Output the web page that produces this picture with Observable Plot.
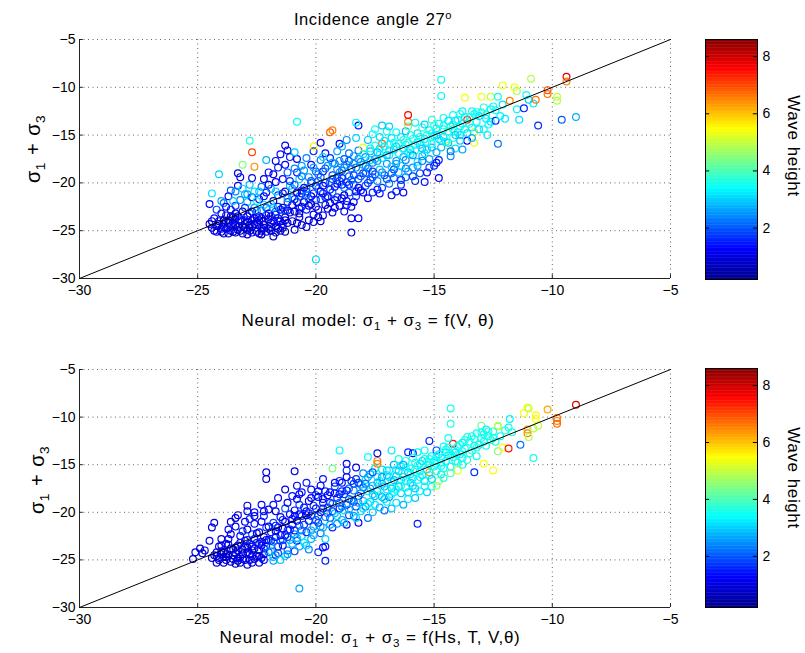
<!DOCTYPE html>
<html>
<head>
<meta charset="utf-8">
<script src="https://cdn.jsdelivr.net/npm/d3@7"></script>
<script src="https://cdn.jsdelivr.net/npm/@observablehq/plot@0.6"></script>
<style>
  html, body { margin: 0; padding: 0; background: #fff; }
  #root { position: relative; width: 805px; height: 653px; font-family: "Liberation Sans", Arial, sans-serif; color: #000; overflow: hidden; }
  .abs { position: absolute; white-space: nowrap; }
  .sb { font-size: 0.68em; position: relative; top: 0.38em; }
  .sp { font-size: 0.68em; position: relative; top: -0.5em; }
</style>
</head>
<body>
<div id="root"></div>
<script>
// ---------- data ----------
const xTicks = [-30, -25, -20, -15, -10, -5];
const yTicks = [-30, -25, -20, -15, -10, -5];
const cbTicks = [2, 4, 6, 8];
const waveDomain = [0.2, 8.6];
const refLine = [-30, -5];

// [neural model, measured sigma1+sigma3, wave height]  -- model f(V, theta)
const topPoints = [
[-24.5,-24.3,0.9],[-24.4,-24.7,0.6],[-24.2,-25.1,1.1],[-24.3,-23.7,1.4],[-24.5,-22.2,1.2],[-24.4,-21.1,3.1],[-24.1,-19.1,3.0],[-24.1,-24.0,0.7],[-24.0,-23.2,1.0],
[-23.9,-25.3,0.8],[-23.8,-24.8,0.5],[-23.9,-24.3,1.0],[-23.7,-23.9,0.7],[-23.8,-23.4,1.3],[-23.6,-22.8,1.5],[-23.9,-22.1,2.1],[-23.7,-21.4,1.1],[-23.6,-20.8,1.9],[-23.6,-24.5,0.6],[-23.5,-23.6,0.9],
[-23.4,-25.2,0.7],[-23.3,-24.9,1.0],[-23.4,-24.4,0.6],[-23.2,-24.0,0.9],[-23.3,-23.5,1.2],[-23.1,-23.0,0.8],[-23.4,-22.4,1.6],[-23.2,-21.8,2.3],[-23.0,-21.2,2.7],[-23.3,-20.3,1.3],[-23.2,-19.4,1.1],[-23.3,-19.0,1.0],[-23.1,-18.1,4.4],[-23.0,-24.7,0.5],
[-22.9,-25.4,0.8],[-22.8,-25.0,0.6],[-22.7,-24.6,1.1],[-22.9,-24.1,0.7],[-22.6,-23.7,0.9],[-22.8,-23.2,1.4],[-22.6,-22.6,2.6],[-22.9,-22.0,2.9],[-22.7,-21.5,1.3],[-22.6,-20.9,3.1],[-22.8,-20.2,2.8],[-22.7,-19.5,0.9],[-22.6,-18.3,6.4],[-22.7,-16.8,7.0],[-22.8,-15.6,3.6],
[-22.4,-25.3,0.7],[-22.3,-24.8,1.0],[-22.2,-24.4,0.6],[-22.4,-23.9,1.2],[-22.1,-23.4,0.8],[-22.3,-22.9,2.4],[-22.2,-22.3,3.0],[-22.4,-21.7,1.5],[-22.1,-21.0,1.1],[-22.3,-20.4,2.2],[-22.2,-19.6,0.9],[-22.0,-18.9,1.3],[-22.1,-17.6,2.7],
[-21.8,-25.6,0.6],[-21.9,-25.0,0.9],[-21.7,-24.5,0.7],[-21.6,-24.0,1.3],[-21.9,-23.5,1.0],[-21.7,-23.0,2.1],[-21.6,-22.5,1.6],[-21.8,-21.9,0.8],[-21.6,-21.3,1.8],[-21.9,-20.6,2.5],[-21.7,-19.9,1.2],[-21.8,-19.1,1.0],[-21.6,-18.4,1.5],[-21.7,-17.7,1.1],[-21.5,-17.0,1.3],
[-21.3,-25.1,0.5],[-21.4,-24.7,0.8],[-21.2,-24.2,1.1],[-21.3,-23.6,0.7],[-21.1,-23.1,1.4],[-21.4,-22.6,0.9],[-21.2,-22.0,1.7],[-21.0,-21.5,2.2],[-21.3,-20.9,1.0],[-21.1,-20.3,2.8],[-21.4,-19.6,1.3],[-21.2,-18.9,2.0],[-21.3,-18.1,1.2],[-21.1,-17.3,1.5],[-21.2,-16.6,1.0],[-21.3,-16.1,1.2],
[-20.9,-24.9,0.7],[-20.8,-24.2,0.9],[-20.7,-23.6,1.2],[-20.9,-23.0,0.6],[-20.6,-22.5,1.5],[-20.8,-22.0,1.1],[-20.7,-21.4,2.4],[-20.6,-20.8,1.6],[-20.9,-20.2,1.9],[-20.7,-19.6,2.9],[-20.8,-18.9,1.4],[-20.6,-18.2,2.6],[-20.8,-17.5,1.1],[-20.9,-16.8,2.9],[-20.8,-13.6,3.4],
[-20.0,-28.0,3.0],[-20.4,-24.6,1.0],[-20.3,-23.9,0.8],[-20.1,-23.3,1.2],[-20.4,-22.8,1.6],[-20.2,-22.2,0.9],[-20.3,-21.7,2.0],[-20.1,-21.1,1.4],[-20.4,-20.6,2.5],[-20.2,-20.0,1.7],[-20.3,-19.4,2.4],[-20.0,-18.8,2.1],[-20.2,-18.1,1.3],[-20.4,-17.4,2.3],[-20.1,-16.7,1.6],[-20.1,-16.2,5.5],
[-19.8,-24.0,0.9],[-19.7,-23.4,1.1],[-19.9,-22.8,1.4],[-19.6,-22.3,0.8],[-19.8,-21.7,1.9],[-19.7,-21.1,1.2],[-19.9,-20.6,2.3],[-19.6,-20.0,1.6],[-19.8,-19.4,2.0],[-19.7,-18.8,1.5],[-19.5,-18.2,2.5],[-19.8,-17.6,2.2],[-19.6,-16.9,1.3],[-19.8,-15.8,1.2],[-19.4,-14.7,6.8],
[-19.3,-23.1,1.0],[-19.2,-22.6,1.3],[-19.4,-22.1,0.8],[-19.1,-21.5,1.7],[-19.3,-21.0,2.1],[-19.2,-20.4,1.4],[-19.0,-19.8,1.8],[-19.3,-19.2,1.9],[-19.1,-18.6,2.4],[-19.2,-18.0,2.3],[-19.4,-17.4,1.6],[-19.1,-16.7,2.6],[-19.0,-15.9,1.1],[-19.3,-14.5,6.5],
[-18.5,-25.2,1.0],[-18.5,-23.7,0.9],[-18.8,-23.0,1.2],[-18.7,-22.3,1.5],[-18.9,-21.6,1.1],[-18.6,-21.0,1.8],[-18.8,-20.5,2.4],[-18.7,-19.9,1.6],[-18.6,-19.3,2.0],[-18.9,-18.7,2.2],[-18.7,-18.1,2.5],[-18.8,-17.5,1.9],[-18.6,-16.9,2.2],[-18.9,-16.2,2.7],[-18.7,-15.5,2.4],
[-18.2,-23.7,1.3],[-18.4,-22.0,1.0],[-18.3,-21.4,1.7],[-18.1,-20.8,1.4],[-18.4,-20.2,2.1],[-18.2,-19.6,1.9],[-18.0,-19.0,1.8],[-18.3,-18.4,2.3],[-18.1,-17.8,2.4],[-18.4,-17.2,2.6],[-18.2,-16.6,2.2],[-18.0,-16.3,5.3],[-18.3,-15.3,3.0],[-18.2,-14.0,1.3],[-18.3,-13.7,3.3],
[-17.8,-21.6,1.2],[-17.6,-21.0,1.6],[-17.9,-20.3,2.0],[-17.7,-19.7,1.7],[-17.5,-19.1,1.9],[-17.8,-18.5,2.2],[-17.6,-17.9,2.3],[-17.9,-17.3,2.5],[-17.7,-16.7,2.8],[-17.5,-16.1,3.5],[-17.8,-15.5,2.9],[-17.6,-14.9,3.3],[-17.5,-14.4,3.6],
[-17.3,-21.1,1.3],[-17.2,-20.5,1.8],[-17.4,-19.8,2.4],[-17.1,-19.2,2.0],[-17.3,-18.6,2.9],[-17.0,-18.0,2.5],[-17.2,-17.4,3.2],[-17.4,-16.8,2.7],[-17.1,-16.2,3.4],[-17.2,-15.9,6.7],[-17.3,-15.2,3.1],[-17.0,-14.6,3.5],[-17.2,-14.0,2.9],
[-16.8,-21.3,1.1],[-16.6,-20.9,1.5],[-16.9,-20.1,2.2],[-16.7,-19.5,1.9],[-16.5,-18.9,2.7],[-16.8,-18.3,3.0],[-16.6,-17.7,2.4],[-16.9,-17.1,3.3],[-16.7,-16.5,2.8],[-16.5,-15.9,3.6],[-16.8,-15.3,3.1],[-16.6,-14.7,3.4],[-16.9,-14.1,3.0],
[-16.3,-21.0,1.2],[-16.4,-20.2,1.7],[-16.2,-19.4,2.1],[-16.1,-18.8,2.6],[-16.4,-18.2,3.0],[-16.2,-17.6,2.3],[-16.0,-17.0,3.3],[-16.3,-16.4,2.9],[-16.1,-15.8,3.5],[-16.4,-15.2,3.2],[-16.2,-14.6,2.8],[-16.1,-14.1,4.2],[-16.1,-13.6,6.6],[-16.1,-12.9,7.6],
[-15.8,-19.8,1.6],[-15.6,-19.0,2.0],[-15.9,-18.4,2.5],[-15.7,-17.8,3.1],[-15.5,-17.2,2.7],[-15.8,-16.6,3.4],[-15.6,-16.0,2.9],[-15.9,-15.4,3.6],[-15.7,-14.8,3.2],[-15.5,-14.2,3.8],[-15.8,-13.7,3.3],
[-15.4,-19.9,1.4],[-15.3,-18.9,1.3],[-15.0,-18.2,1.6],[-15.2,-17.5,2.6],[-15.4,-16.9,3.2],[-15.1,-16.3,2.8],[-15.3,-15.7,3.5],[-15.0,-15.1,3.1],[-15.2,-14.5,3.4],[-15.4,-13.9,3.0],[-15.1,-13.4,3.7],
[-14.8,-19.5,1.2],[-14.8,-17.6,1.5],[-14.9,-16.8,2.7],[-14.4,-16.1,4.8],[-14.7,-15.6,3.3],[-14.9,-15.0,2.9],[-14.6,-14.4,3.6],[-14.8,-13.8,3.2],[-14.6,-13.2,3.4],[-14.7,-10.9,3.3],[-14.7,-9.2,3.4],
[-14.3,-17.2,2.4],[-14.1,-16.4,3.1],[-14.4,-15.8,2.8],[-14.2,-15.3,3.5],[-14.0,-14.7,3.2],[-14.3,-14.1,3.7],[-14.1,-13.5,3.0],[-14.2,-12.9,3.4],
[-13.8,-16.5,2.6],[-13.6,-15.6,1.2],[-13.9,-15.0,3.1],[-13.7,-14.4,3.5],[-13.8,-13.8,3.3],[-13.6,-13.4,7.2],[-13.9,-12.8,3.6],[-13.7,-11.1,5.4],
[-13.3,-15.8,5.2],[-13.3,-14.7,5.0],[-13.4,-14.2,3.2],[-13.2,-13.6,3.4],[-13.1,-13.0,3.0],[-13.4,-12.5,3.5],[-13.0,-11.0,5.3],
[-12.75,-15.0,3.2],[-12.9,-14.4,3.4],[-12.6,-13.6,3.1],[-12.8,-12.9,3.6],[-12.6,-12.3,3.3],[-12.6,-11.0,4.9],
[-12.3,-15.9,2.2],[-12.4,-13.5,1.5],[-12.2,-13.0,3.3],[-12.4,-12.4,3.5],[-12.1,-11.8,3.1],[-12.3,-11.0,3.4],[-12.1,-9.8,5.3],
[-12.0,-13.3,3.2],[-11.5,-12.3,3.3],[-11.8,-11.4,6.5],[-11.5,-10.4,4.6],[-11.6,-10.0,5.4],
[-11.4,-13.4,3.1],[-11.2,-12.2,1.5],[-11.0,-11.3,2.9],[-11.1,-10.8,3.4],
[-10.6,-14.0,1.6],[-10.8,-11.7,3.2],[-10.7,-11.3,6.6],[-10.9,-9.1,4.8],
[-10.2,-10.3,6.9],[-10.2,-10.7,6.6],
[-9.8,-11.0,5.0],[-9.8,-11.4,4.8],[-9.6,-13.4,2.0],[-9.4,-8.9,7.8],[-9.4,-9.4,6.5],[-9.0,-13.1,2.7],
[-24.2,-24.5,0.7],[-24.0,-24.8,1.0],[-23.9,-23.9,0.6],[-23.7,-24.2,0.9],[-23.6,-25.0,1.2],[-23.5,-24.2,0.7],[-23.4,-23.8,1.1],[-23.2,-25.0,0.6],[-23.1,-24.5,0.8],[-23.0,-23.9,1.3],[-22.9,-24.9,0.9],[-22.8,-24.4,0.5],[-22.7,-23.9,1.0],[-22.5,-25.1,0.7],[-22.5,-24.1,1.2],[-22.4,-23.5,0.8],[-22.3,-25.0,1.1],[-22.2,-24.0,0.6],[-22.0,-24.8,0.9],[-21.9,-24.2,1.3],[-21.7,-23.3,0.8],[-21.5,-24.0,1.0],[-21.5,-22.8,1.4],[-21.3,-23.9,0.7],[-21.2,-22.9,1.2],[-21.0,-22.3,0.9],[-20.9,-21.7,1.5],[-20.7,-23.2,0.8],[-20.6,-21.1,1.3],[-20.5,-22.0,1.0],[-20.4,-20.9,1.8],[-20.2,-21.4,1.1],[-20.0,-20.3,1.6],[-20.0,-22.5,0.9],[-19.9,-19.8,2.0],[-19.7,-20.3,1.3],[-19.5,-21.4,1.0],[-19.4,-20.7,1.5],[-19.3,-19.6,1.9],[-19.1,-20.1,1.2],[-19.0,-18.9,2.4],[-18.9,-19.5,1.6],[-18.8,-21.3,0.9],[-18.6,-20.2,1.4],[-18.5,-18.5,2.2],[-18.4,-19.2,1.8],[-18.2,-20.5,1.2],[-18.0,-18.1,2.7],[-17.9,-19.0,2.0],[-17.7,-17.6,2.9],[-17.6,-18.8,1.7],[-17.4,-17.7,2.6],[-17.3,-16.4,3.2],[-17.0,-17.1,2.8],[-16.9,-16.0,3.3],[-16.7,-18.6,1.8],[-16.6,-16.2,3.0],[-16.3,-17.3,2.7],[-16.2,-16.0,3.4],[-16.0,-16.5,3.1],[-15.9,-17.1,2.5],[-15.7,-15.7,3.3],[-15.5,-16.4,2.9],[-15.3,-15.0,3.4],[-15.1,-14.8,3.6],[-14.9,-14.3,3.2],[-14.6,-15.2,3.0],[-14.4,-14.6,3.5],[-14.2,-13.9,3.3],[-13.9,-14.1,3.4],[-13.7,-13.1,3.2],[-13.5,-13.8,3.6],[-13.3,-12.8,3.4],[-13.0,-12.6,3.5],[-12.8,-13.3,3.2],[-12.5,-12.0,3.4],
[-24.4,-24.0,0.8],[-24.3,-25.0,1.0],[-24.1,-24.3,0.6],[-24.0,-25.1,0.9],[-23.9,-24.6,1.2],[-23.8,-24.0,0.7],[-23.7,-25.3,1.0],[-23.6,-23.5,0.8],[-23.5,-24.6,1.3],[-23.5,-25.1,0.6],[-23.4,-23.2,1.0],[-23.3,-24.6,0.8],[-23.2,-23.8,1.4],[-23.1,-25.3,0.9],[-23.0,-24.3,0.6],[-23.0,-22.6,1.7],[-22.9,-23.5,1.1],[-22.8,-24.7,0.8],[-22.7,-25.2,1.2],[-22.7,-23.0,0.9],[-22.6,-24.3,0.7],[-22.5,-23.6,1.0],[-22.5,-22.9,2.2],[-22.4,-24.4,0.9],[-22.3,-25.4,0.6],[-22.3,-23.7,1.3],[-22.2,-24.7,0.8],[-22.1,-22.6,1.9],[-22.1,-25.1,1.0],[-22.0,-23.8,0.7],[-22.0,-23.2,1.2],[-21.9,-24.6,0.8],[-21.8,-24.0,1.1],[-21.8,-22.6,2.7],[-21.7,-25.2,0.9],[-21.6,-24.8,0.6],[-21.6,-23.7,1.4],[-21.5,-25.0,0.9],[-21.4,-24.3,1.2],[-21.3,-22.9,1.6],[-24.2,-22.8,1.8],[-24.0,-21.9,2.6],[-23.8,-22.5,1.2],[-23.5,-21.9,2.9],[-23.4,-20.9,2.4],[-23.1,-20.6,3.0],[-22.9,-21.2,2.6],[-22.5,-21.9,3.2],[-22.4,-20.9,2.9],[-22.2,-21.4,1.4],[-22.0,-20.2,1.2],[-21.9,-22.2,2.8],[-21.7,-20.9,3.0],
[-21.4,-21.1,1.3],[-21.2,-21.6,2.5],[-21.1,-19.8,1.6],[-21.0,-20.6,2.6],[-21.0,-24.0,0.8],[-20.9,-18.5,2.4],[-20.8,-21.0,1.0],[-20.7,-22.7,1.3],[-20.6,-19.3,2.3],[-20.6,-24.4,0.7],[-20.5,-20.5,1.4],[-20.5,-18.7,2.5],[-20.4,-21.3,2.2],[-20.3,-22.4,1.1],[-20.2,-19.8,1.9],[-20.1,-24.1,1.0],[-20.1,-18.4,2.6],[-20.0,-21.8,1.5],[-19.9,-23.6,0.8],[-19.9,-19.1,2.2],[-19.8,-20.9,1.2],[-19.7,-17.3,3.0],[-19.6,-21.5,1.6],[-19.6,-18.5,2.1],[-19.5,-22.7,1.0],[-19.4,-19.9,2.0],[-19.3,-17.9,2.6],[-19.2,-21.8,1.3],[-19.1,-19.4,1.8],[-19.0,-22.4,0.9],[-19.0,-17.7,2.4],[-18.9,-20.2,1.5],[-18.8,-18.4,2.3],[-18.7,-21.9,1.2],[-18.6,-17.7,2.0],[-18.5,-19.7,2.1],[-18.5,-22.5,1.1],[-18.4,-18.0,2.4],[-18.3,-20.9,1.4],[-18.2,-17.5,2.5],[-18.1,-19.3,2.0],[-18.0,-21.0,1.2],[-18.0,-17.0,3.1],[-17.9,-18.2,2.4],[-17.8,-20.0,1.7],[-17.7,-16.4,3.3],[-17.6,-19.4,2.0],[-17.5,-17.5,2.7],[-17.4,-20.7,1.4],[-17.3,-17.0,3.2],[-17.2,-18.9,2.3],[-17.1,-15.6,3.2],
[-17.0,-19.6,1.9],[-16.9,-16.6,3.1],[-16.8,-19.0,2.2],[-16.7,-15.8,3.5],[-16.6,-18.0,2.6],[-16.5,-16.9,3.3],[-16.4,-19.7,1.6],[-16.3,-15.5,3.6],[-16.2,-18.5,2.4],[-16.1,-16.8,3.2],[-16.0,-15.0,3.4],[-15.9,-19.3,1.8],[-15.8,-16.0,3.3],[-15.7,-18.2,2.6],[-15.6,-15.2,3.5],[-15.5,-17.7,2.3],[-15.4,-15.4,3.2],[-15.3,-16.5,3.0],[-15.2,-18.4,1.7],[-15.1,-15.9,3.4],[-15.0,-14.0,3.6],[-14.9,-17.9,1.4],[-14.8,-15.4,3.1],[-14.7,-16.3,2.8],[-14.6,-14.0,3.5],[-14.5,-15.7,3.3],[-14.4,-13.5,3.2],[-14.3,-16.7,2.2],[-14.2,-14.4,3.6],[-14.1,-15.0,3.0],[-14.0,-13.4,3.4],[-13.9,-15.6,2.9],[-13.8,-12.5,3.3],[-13.6,-14.8,3.1],[-13.5,-13.1,3.5],[-13.4,-15.3,2.7],[-13.2,-12.6,3.4],[-13.1,-14.4,3.1],[-12.9,-12.1,3.6],[-12.7,-13.9,3.3]
];

// [neural model, measured sigma1+sigma3, wave height]  -- model f(Hs, T, V, theta)
const bottomPoints = [
[-25.2,-24.9,0.8],[-25.1,-24.2,1.0],[-24.9,-23.8,0.7],[-24.8,-24.3,1.1],[-24.7,-24.0,0.9],[-24.5,-23.0,1.2],[-24.4,-21.6,0.9],[-24.3,-21.1,1.1],[-24.3,-24.5,0.8],[-24.2,-25.3,1.0],
[-24.1,-25.0,0.7],[-24.2,-24.6,1.0],[-24.0,-24.1,0.8],[-24.1,-23.6,1.2],[-24.0,-22.8,1.0],
[-23.9,-25.3,0.6],[-23.8,-25.0,0.9],[-23.7,-24.6,0.7],[-23.9,-24.2,1.1],[-23.6,-23.8,0.8],[-23.8,-23.3,1.3],[-23.7,-22.8,0.9],[-23.6,-22.3,1.2],[-23.6,-21.0,1.0],[-23.5,-24.9,0.7],
[-23.4,-25.4,0.8],[-23.3,-25.1,0.6],[-23.2,-24.7,1.0],[-23.4,-24.3,0.7],[-23.1,-23.9,1.1],[-23.3,-23.5,0.9],[-23.0,-23.0,1.4],[-23.2,-22.5,1.0],[-23.1,-22.0,1.6],[-23.4,-21.5,1.1],[-23.4,-20.6,0.9],[-23.3,-20.3,1.2],
[-22.9,-25.5,0.7],[-22.8,-25.0,1.0],[-22.7,-24.6,0.8],[-22.9,-24.2,1.2],[-22.6,-23.8,0.9],[-22.8,-23.3,1.5],[-22.6,-22.8,1.1],[-22.7,-22.3,1.8],[-22.9,-21.8,1.0],[-22.6,-21.2,1.4],[-22.8,-20.7,1.7],[-22.6,-20.0,1.3],[-22.9,-19.3,0.9],[-22.9,-19.9,1.1],
[-22.4,-25.3,0.9],[-22.3,-24.8,1.3],[-22.2,-24.4,0.7],[-22.4,-24.0,1.1],[-22.1,-23.6,1.6],[-22.3,-23.1,0.9],[-22.2,-22.6,1.4],[-22.4,-22.1,1.0],[-22.1,-21.6,1.7],[-22.3,-21.0,1.2],[-22.2,-20.4,1.5],[-22.0,-19.7,0.9],[-22.3,-19.2,1.3],[-22.1,-15.8,1.0],[-22.1,-16.5,0.9],
[-21.8,-25.1,2.6],[-21.7,-24.5,1.9],[-21.9,-24.1,2.8],[-21.6,-23.6,1.2],[-21.8,-23.1,2.3],[-21.7,-22.6,1.0],[-21.9,-22.1,1.5],[-21.6,-21.6,1.1],[-21.8,-21.1,1.8],[-21.5,-20.5,1.3],[-21.7,-19.9,1.0],[-21.8,-19.2,1.4],[-21.6,-18.5,1.2],
[-21.3,-24.6,2.9],[-21.2,-24.0,2.2],[-21.4,-23.5,1.4],[-21.1,-22.9,2.7],[-21.3,-22.4,1.1],[-21.2,-21.9,1.7],[-21.0,-21.3,1.0],[-21.4,-20.8,1.5],[-21.1,-20.2,1.2],[-21.3,-19.6,1.9],[-21.2,-19.0,1.1],[-21.0,-18.3,1.4],[-21.3,-17.6,1.0],
[-20.9,-24.1,1.8],[-20.7,-23.6,2.6],[-20.8,-23.0,1.5],[-20.6,-22.5,2.9],[-20.9,-21.9,1.3],[-20.7,-21.4,2.0],[-20.8,-20.9,1.1],[-20.6,-20.4,1.6],[-20.9,-19.8,1.2],[-20.7,-19.2,1.8],[-20.8,-18.6,1.0],[-20.6,-17.9,1.4],[-20.8,-17.2,1.1],[-20.9,-15.7,1.0],[-20.7,-28.0,2.6],
[-20.3,-23.9,2.3],[-20.5,-23.2,3.2],[-20.2,-22.8,2.7],[-20.4,-22.1,1.6],[-20.1,-21.5,2.4],[-20.3,-20.9,1.3],[-20.2,-20.4,1.9],[-20.4,-19.9,1.2],[-20.1,-19.3,1.6],[-20.3,-18.8,1.1],[-20.0,-18.2,1.8],[-20.2,-17.6,1.3],[-20.4,-16.9,1.5],
[-19.6,-25.1,1.5],[-19.9,-24.2,1.7],[-19.7,-23.7,1.3],[-19.6,-23.6,1.4],[-19.8,-22.2,2.1],[-19.7,-21.6,2.8],[-19.9,-21.1,1.6],[-19.6,-20.5,2.4],[-19.8,-20.0,1.3],[-19.5,-19.5,2.0],[-19.7,-19.0,1.5],[-19.9,-18.4,1.2],[-19.6,-17.8,1.7],[-19.8,-17.2,1.1],[-19.7,-16.5,1.4],
[-19.3,-21.6,1.6],[-19.1,-21.2,2.5],[-19.4,-20.6,1.9],[-19.2,-20.1,2.8],[-19.0,-19.6,1.4],[-19.3,-19.1,2.2],[-19.1,-18.5,1.6],[-19.4,-17.9,1.2],[-19.2,-17.3,2.0],[-19.0,-16.7,1.5],[-19.3,-15.4,4.3],[-19.0,-13.5,3.3],
[-18.7,-21.3,1.3],[-18.9,-20.8,2.6],[-18.6,-20.3,1.8],[-18.8,-19.8,2.9],[-18.7,-19.2,1.5],[-18.5,-18.7,2.4],[-18.8,-18.1,1.7],[-18.6,-17.5,2.2],[-18.9,-16.9,1.4],[-18.7,-16.3,1.1],[-18.7,-15.6,1.6],[-18.7,-14.9,1.2],
[-18.2,-21.1,1.2],[-18.4,-20.4,2.5],[-18.1,-19.9,3.0],[-18.3,-19.4,1.9],[-18.0,-18.8,2.7],[-18.2,-18.3,1.5],[-18.4,-17.7,2.3],[-18.1,-17.1,2.8],[-18.3,-16.5,1.6],[-18.0,-15.9,2.4],[-18.3,-15.3,1.1],
[-17.8,-20.6,2.2],[-17.6,-20.0,2.9],[-17.9,-19.4,2.4],[-17.7,-18.9,3.1],[-17.5,-18.3,2.6],[-17.8,-17.8,3.3],[-17.6,-17.2,2.8],[-17.9,-16.6,3.0],[-17.7,-16.0,2.5],[-17.5,-15.4,3.2],[-17.8,-14.2,3.4],
[-17.1,-19.8,2.1],[-17.3,-19.5,2.8],[-17.0,-18.9,3.2],[-17.2,-18.4,2.6],[-17.4,-17.8,3.0],[-17.1,-17.3,2.7],[-17.3,-16.7,3.3],[-17.0,-16.1,2.9],[-17.2,-15.5,3.1],[-17.4,-14.9,6.4],[-17.4,-14.6,6.6],[-17.4,-13.8,1.4],
[-16.8,-19.6,2.8],[-16.6,-19.0,3.1],[-16.9,-18.4,2.5],[-16.7,-17.9,3.3],[-16.5,-17.3,2.9],[-16.8,-16.8,3.4],[-16.6,-16.2,3.0],[-16.9,-15.6,3.2],[-16.7,-15.0,2.7],[-16.5,-14.4,3.5],[-16.8,-13.5,3.2],
[-16.3,-19.2,2.7],[-16.1,-18.6,3.2],[-16.4,-18.0,2.9],[-16.2,-17.4,3.4],[-16.0,-16.9,3.0],[-16.3,-16.3,3.3],[-16.1,-15.8,2.8],[-16.4,-15.2,3.1],[-16.2,-14.6,3.5],[-16.1,-13.7,1.6],[-15.9,-13.8,1.3],
[-15.7,-21.2,1.5],[-15.8,-18.5,2.9],[-15.6,-17.8,3.3],[-15.9,-17.2,3.0],[-15.7,-16.6,3.5],[-15.5,-16.1,3.1],[-15.8,-15.5,3.4],[-15.6,-14.9,3.2],[-15.9,-14.3,3.6],[-15.7,-13.7,3.3],
[-15.3,-17.9,3.0],[-15.1,-17.3,3.4],[-15.4,-16.7,3.1],[-15.2,-16.1,3.5],[-15.2,-15.8,6.2],[-15.0,-15.2,3.3],[-15.3,-14.7,3.6],[-15.1,-14.1,3.2],[-15.4,-13.5,3.4],[-15.2,-12.5,1.5],
[-14.8,-16.7,4.4],[-14.9,-17.2,4.6],[-14.7,-16.0,3.2],[-14.6,-15.4,3.6],[-14.9,-14.9,3.3],[-14.7,-14.3,3.5],[-14.5,-13.7,3.1],[-14.9,-13.5,1.9],[-14.6,-13.1,3.4],
[-14.0,-15.6,5.3],[-14.3,-15.2,3.3],[-14.1,-14.6,3.6],[-14.4,-14.0,3.2],[-14.2,-13.4,3.5],[-14.2,-12.8,7.4],[-14.4,-12.2,3.4],[-14.3,-10.7,3.6],[-14.3,-9.1,3.5],
[-13.8,-15.0,3.4],[-13.6,-14.5,3.7],[-13.9,-13.9,3.3],[-13.7,-13.3,3.5],[-13.8,-12.7,3.2],[-13.6,-12.1,3.6],
[-13.3,-15.8,1.6],[-12.9,-14.9,5.4],[-13.2,-14.1,3.4],[-13.4,-13.5,3.6],[-13.1,-12.9,3.3],[-13.3,-12.3,3.7],[-13.2,-11.7,3.4],[-13.0,-10.9,4.3],
[-12.5,-15.6,5.5],[-12.3,-13.6,4.4],[-12.8,-13.0,3.5],[-12.6,-12.4,3.8],[-12.9,-11.8,3.4],[-12.3,-11.0,4.5],
[-12.1,-13.2,5.4],[-12.4,-12.6,3.6],[-12.2,-12.0,3.3],[-12.0,-11.4,3.7],[-12.3,-10.9,4.9],
[-11.85,-13.3,7.4],[-11.85,-11.1,3.4],[-11.8,-10.2,3.3],[-11.7,-11.6,3.6],
[-11.35,-12.9,2.2],[-11.05,-11.7,6.5],[-11.05,-11.3,6.3],[-11.2,-9.6,5.5],[-11.05,-9.0,5.4],[-11.0,-12.1,4.8],
[-10.8,-14.3,3.5],[-10.8,-11.2,4.8],[-10.6,-10.9,4.9],[-10.7,-10.2,5.4],[-10.7,-9.8,5.5],[-11.0,-9.1,4.9],
[-10.2,-9.2,6.2],[-9.8,-10.1,6.6],[-9.8,-10.4,6.5],[-9.8,-10.7,6.7],
[-9.0,-8.7,7.8],
[-24.0,-24.4,0.9],[-23.8,-24.7,0.6],[-23.5,-23.9,1.0],[-23.3,-24.0,0.8],[-23.1,-24.9,1.2],[-22.9,-23.7,0.7],[-22.7,-24.0,1.1],[-22.5,-24.6,0.8],[-22.4,-23.3,1.0],[-22.2,-23.8,1.4],[-22.0,-22.9,1.1],[-21.9,-23.5,2.4],[-21.7,-22.0,1.3],[-21.5,-23.0,1.9],[-21.4,-21.7,1.2],[-21.2,-22.6,1.6],[-21.0,-20.7,1.4],[-20.9,-22.3,2.5],[-20.7,-20.2,1.3],[-20.5,-21.3,1.7],[-20.4,-20.3,1.1],[-20.2,-21.9,2.6],[-20.0,-19.6,1.5],[-19.9,-20.4,1.9],[-19.7,-18.6,1.3],[-19.5,-20.1,2.3],[-19.4,-19.0,1.7],[-19.2,-18.0,1.4],[-19.0,-19.0,2.1],[-18.9,-17.8,1.6],[-18.6,-18.6,2.0],[-18.4,-17.0,1.8],[-18.2,-19.0,2.6],[-18.0,-17.4,2.3],[-17.8,-16.3,2.7],[-17.6,-18.1,3.0],[-17.4,-16.3,3.2],[-17.2,-17.0,2.9],[-17.0,-15.6,3.1],[-16.8,-17.5,3.0],[-16.6,-15.5,3.3],[-16.4,-16.6,3.1],[-16.2,-15.3,3.4],[-16.0,-16.0,3.2],[-15.8,-14.8,3.5],[-15.6,-15.7,3.3],[-15.4,-14.4,3.4],[-15.2,-15.0,3.6],[-14.9,-14.1,3.3],[-14.7,-14.8,3.5],[-14.5,-13.4,3.4],[-14.3,-13.9,3.7],[-14.0,-13.1,3.4],[-13.8,-13.6,3.6],[-13.5,-12.6,3.5],[-13.3,-13.0,3.3],[-13.0,-12.2,3.6],[-12.7,-12.0,3.5],[-12.5,-11.5,3.7],[-12.8,-11.3,3.3],
[-24.4,-24.8,0.8],[-24.2,-24.2,1.1],[-24.1,-24.8,0.7],[-24.0,-23.5,1.0],[-23.9,-24.7,0.9],[-23.8,-24.4,0.6],[-23.7,-23.4,1.2],[-23.6,-25.2,0.8],[-23.5,-24.5,1.0],[-23.4,-23.7,0.7],[-23.3,-24.8,1.1],[-23.2,-25.3,0.9],[-23.2,-23.2,1.3],[-23.1,-24.4,0.6],[-23.0,-25.0,1.0],[-23.0,-23.6,0.8],[-22.9,-22.9,1.4],[-22.8,-24.4,0.9],[-22.7,-25.3,1.1],[-22.7,-23.6,0.7],[-22.6,-24.9,1.0],[-22.5,-23.2,1.5],[-22.5,-22.2,1.2],[-22.4,-24.6,0.8],[-22.3,-23.5,1.1],[-22.2,-25.0,1.3],[-22.1,-22.9,1.0],[-22.0,-24.2,2.2],[-22.0,-21.5,1.2],[-21.9,-23.0,1.6],[-21.8,-24.7,2.7],[-21.7,-21.4,1.4],[-21.6,-24.3,2.0],[-21.5,-22.4,1.1],[-21.5,-25.0,2.9],[-21.4,-22.9,1.8],[-21.3,-21.0,1.2],[-21.2,-24.4,2.5],[-21.1,-21.8,1.5],[-21.0,-23.3,2.8],[-23.7,-21.8,1.1],[-23.0,-21.0,1.2],[-22.6,-20.4,1.0],[-22.2,-19.9,1.3],
[-20.9,-20.4,1.3],[-20.8,-22.7,2.7],[-20.7,-18.1,1.2],[-20.6,-21.9,2.2],[-20.5,-19.5,1.4],[-20.4,-23.5,2.9],[-20.3,-20.1,1.6],[-20.2,-18.5,1.1],[-20.1,-22.4,2.7],[-20.0,-20.8,1.8],[-19.9,-17.8,1.3],[-19.8,-21.5,2.5],[-19.7,-19.6,1.5],[-19.6,-22.8,3.0],[-19.5,-18.2,1.2],[-19.4,-21.3,2.6],[-19.3,-19.9,1.7],[-19.2,-16.9,1.3],[-19.1,-20.4,2.9],[-19.0,-18.1,1.5],[-18.9,-19.4,2.3],[-18.8,-21.1,2.8],[-18.7,-17.7,1.4],[-18.6,-19.7,2.6],[-18.5,-16.7,1.6],[-18.4,-18.9,2.0],[-18.3,-20.6,3.0],[-18.2,-16.9,1.7],[-18.1,-18.0,2.4],[-18.0,-19.6,3.1],[-17.9,-17.0,2.2],[-17.8,-19.1,3.2],[-17.7,-17.5,2.6],[-17.6,-15.8,2.0],[-17.5,-19.2,3.1],[-17.4,-16.9,2.8],[-17.3,-18.2,3.3],[-17.2,-16.3,2.5],[-17.1,-18.6,3.0],[-17.0,-17.6,3.2],
[-16.9,-16.3,3.1],[-16.8,-18.1,3.3],[-16.7,-16.6,2.8],[-16.6,-17.6,3.4],[-16.5,-15.7,3.0],[-16.4,-17.2,3.5],[-16.3,-15.0,2.7],[-16.2,-16.7,3.3],[-16.1,-17.9,3.1],[-16.0,-15.4,3.4],[-15.9,-16.4,3.2],[-15.8,-17.5,3.0],[-15.7,-15.1,3.5],[-15.6,-16.3,3.3],[-15.5,-14.6,3.1],[-15.4,-17.3,3.4],[-15.3,-15.5,3.2],[-15.2,-14.4,3.6],[-15.1,-16.5,3.0],[-15.0,-14.6,3.3],[-14.9,-15.7,3.5],[-14.8,-13.9,3.2],[-14.7,-15.1,3.4],[-14.6,-16.4,3.7],[-14.5,-14.6,3.3],[-14.4,-13.2,3.5],[-14.3,-15.9,4.0],[-14.2,-14.2,3.4],[-14.1,-13.7,3.2],[-14.0,-14.8,3.6],[-13.9,-12.9,3.4],[-13.8,-14.3,3.3],[-13.7,-12.4,3.6],[-13.5,-13.8,3.5],[-13.4,-12.0,3.4],[-13.2,-13.2,3.7],[-13.0,-11.6,3.5],[-12.9,-12.6,3.4],[-12.7,-11.5,3.6],[-12.5,-12.2,3.4]
];

// jet colormap anchors
const jetColors = ["#000090", "#0000ff", "#00ffff", "#ffff00", "#ff0000", "#800000"];
const jetStops = [0, 0.125, 0.375, 0.625, 0.875, 1];

// ---------- drawing ----------
const FONT = "'Liberation Sans', Arial, Helvetica, sans-serif";
const colorScale = {
  type: "linear",
  domain: jetStops.map(t => waveDomain[0] + t * (waveDomain[1] - waveDomain[0])),
  range: jetColors,
  interpolate: "rgb",
  clamp: true
};

function panel(points, height, marginBottom) {
  return Plot.plot({
    width: 700, height,
    marginLeft: 79, marginRight: 30, marginTop: 39, marginBottom,
    x: {domain: [-30, -5]},
    y: {domain: [-30, -5]},
    color: colorScale,
    style: {fontFamily: FONT, fontSize: "14px", color: "#000", background: "transparent", overflow: "visible"},
    marks: [
      Plot.gridX(xTicks, {stroke: "#666", strokeOpacity: 1, strokeWidth: 1, strokeDasharray: "1,3.5"}),
      Plot.gridY(yTicks, {stroke: "#666", strokeOpacity: 1, strokeWidth: 1, strokeDasharray: "1,3.5"}),
      Plot.ruleX([-30], {stroke: "#222"}),
      Plot.ruleY([-30], {stroke: "#222"}),
      Plot.ruleX(xTicks, {y1: -30, y2: -29.6, stroke: "#222"}),
      Plot.ruleY(yTicks, {x1: -30, x2: -29.84, stroke: "#222"}),
      Plot.axisX(xTicks, {tickSize: 0, tickPadding: 7, label: null}),
      Plot.axisY(yTicks, {tickSize: 0, tickPadding: 4, label: null}),
      Plot.dot(points, {x: d => d[0], y: d => d[1], stroke: d => d[2], fill: "none", r: 3.4, strokeWidth: 1.2}),
      Plot.line(refLine, {x: d => d, y: d => d, stroke: "#000", strokeWidth: 1})
    ]
  });
}

function colorbar(height, marginTop, marginBottom) {
  const step = 0.05;
  const slices = d3.range(waveDomain[0], waveDomain[1], step);
  return Plot.plot({
    width: 115, height,
    marginLeft: 15, marginRight: 48, marginTop, marginBottom,
    x: {domain: [0, 1], axis: null},
    y: {domain: waveDomain},
    color: colorScale,
    style: {fontFamily: FONT, fontSize: "14px", color: "#000", background: "transparent", overflow: "visible"},
    marks: [
      Plot.rect(slices, {x1: 0, x2: 1, y1: d => d, y2: d => Math.min(d + step * 1.3, waveDomain[1]), fill: d => d}),
      Plot.ruleY(cbTicks, {x1: 0, x2: 0.08, stroke: "#000"}),
      Plot.ruleY(cbTicks, {x1: 0.92, x2: 1, stroke: "#000"}),
      Plot.frame({stroke: "#000"}),
      Plot.axisY(cbTicks, {anchor: "right", tickSize: 0, tickPadding: 5, label: null})
    ]
  });
}

const root = document.getElementById("root");
function place(node, left, top) {
  node.style.position = "absolute";
  node.style.left = left + "px";
  node.style.top = top + "px";
  root.appendChild(node);
}
function label(html, left, top, size, rotate, spacing) {
  const d = document.createElement("div");
  d.className = "abs";
  d.innerHTML = html;
  d.style.left = left + "px";
  d.style.top = top + "px";
  d.style.fontSize = size + "px";
  if (spacing) { d.style.letterSpacing = spacing[0] + "px"; d.style.wordSpacing = spacing[1] + "px"; }
  d.style.transform = "translate(-50%, -50%)" + (rotate ? ` rotate(${rotate}deg)` : "");
  root.appendChild(d);
}

place(panel(topPoints, 330, 52), 0, 0);
place(colorbar(330, 39, 51), 690, 0);
place(panel(bottomPoints, 323, 46), 0, 330);
place(colorbar(323, 38, 46), 690, 330);

const s1 = 'σ<span class="sb">1</span>';
const s3 = 'σ<span class="sb">3</span>';
label('Incidence angle 27<span class="sp">o</span>', 373, 19, 16.5, 0, [0.6, 1]);
label(`${s1} + ${s3}`, 33, 149, 20, -90, [0.5, 1]);
label(`${s1} + ${s3}`, 37, 480, 20, -90, [0.5, 1]);
label(`Neural model: ${s1} + ${s3} = f(V, θ)`, 368, 321, 17, 0, [0.7, 0.5]);
label(`Neural model: ${s1} + ${s3} = f(Hs, T, V,θ)`, 370, 638, 17, 0, [0.7, 0.5]);
label('Wave height', 793, 146, 17, 90, [0.6, 1]);
label('Wave height', 793, 478, 17, 90, [0.6, 1]);
</script>
</body>
</html>
